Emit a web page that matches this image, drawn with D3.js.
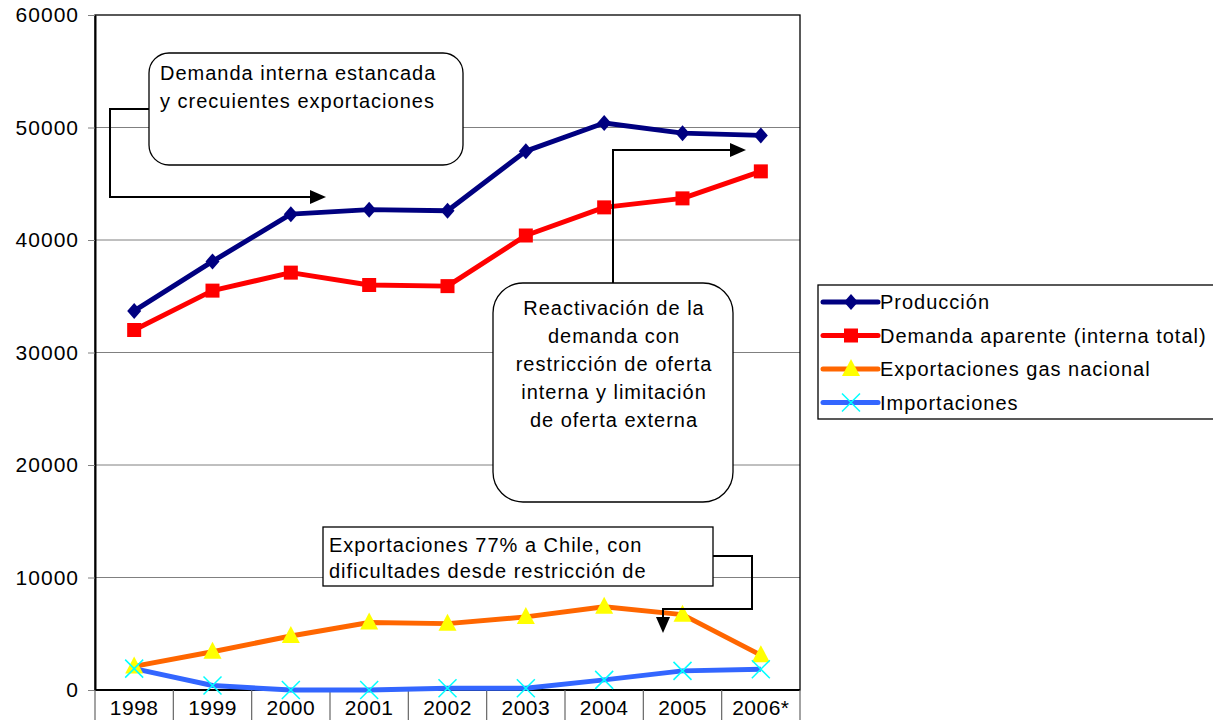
<!DOCTYPE html>
<html>
<head>
<meta charset="utf-8">
<script src="https://cdn.jsdelivr.net/npm/d3@7"></script>
<style>
  body { margin: 0; background: #fff; }
  svg text { font-family: "Liberation Sans", Arial, sans-serif; fill: #000; letter-spacing: 1px; }
</style>
</head>
<body>
<div id="chart"></div>
<script>
// categories and series
const years = ["1998", "1999", "2000", "2001", "2002", "2003", "2004", "2005", "2006*"];
const produccion = [33700, 38100, 42300, 42700, 42600, 47900, 50400, 49500, 49300];
const demanda = [32000, 35500, 37100, 36000, 35900, 40400, 42900, 43700, 46100];
const exportaciones = [2100, 3400, 4800, 6000, 5900, 6500, 7400, 6700, 3100];
const importaciones = [1900, 400, 0, 0, 150, 150, 900, 1700, 1850];
const yTicks = [0, 10000, 20000, 30000, 40000, 50000, 60000];

const series = [
  {name: "Producción", values: produccion, color: "#000080", marker: "diamond"},
  {name: "Demanda aparente (interna total)", values: demanda, color: "#ff0000", marker: "square"},
  {name: "Exportaciones gas nacional", values: exportaciones, color: "#ff6600", marker: "triangle"},
  {name: "Importaciones", values: importaciones, color: "#3366ff", marker: "cross"}
];

const width = 1213, height = 720;
const margins = {left: 95, right: 413, top: 15, bottom: 30};
const w = width - margins.left - margins.right;
const h = height - margins.top - margins.bottom;

const svg = d3.select("#chart").append("svg")
  .attr("width", width).attr("height", height);
const g = svg.append("g")
  .attr("transform", "translate(" + margins.left + "," + margins.top + ")");

const x = d3.scaleBand().domain(years).range([0, w]);
const y = d3.scaleLinear().domain([0, 60000]).range([h, 0]);

// gridlines
g.selectAll(".grid").data(yTicks.filter(d => d > 0 && d < 60000))
  .enter().append("line")
  .attr("x1", 0).attr("x2", w)
  .attr("y1", d => y(d)).attr("y2", d => y(d))
  .attr("stroke", "#808080").attr("stroke-width", 1);

// plot frame
g.append("rect").attr("x", 0).attr("y", 0).attr("width", w).attr("height", h)
  .attr("fill", "none").attr("stroke", "#000").attr("stroke-width", 1.3);

// y axis
const yAxis = g.append("g").call(d3.axisLeft(y).tickValues(yTicks).tickSize(7).tickSizeOuter(0).tickFormat(d3.format("d")));
yAxis.select(".domain").attr("stroke", "#000").attr("stroke-width", 2);
yAxis.selectAll(".tick line").attr("stroke", "#808080");
yAxis.selectAll("text").attr("font-size", 21).attr("x", -16)
  .attr("font-family", "Liberation Sans, Arial, sans-serif");

// x category table below axis
g.append("line").attr("x1", 0).attr("x2", w).attr("y1", h).attr("y2", h)
  .attr("stroke", "#000").attr("stroke-width", 2);
g.selectAll(".sep").data(years.concat(["end"]))
  .enter().append("line")
  .attr("x1", (d, i) => i * x.bandwidth()).attr("x2", (d, i) => i * x.bandwidth())
  .attr("y1", h).attr("y2", h + 32)
  .attr("stroke", "#666").attr("stroke-width", 1.2);
g.selectAll(".xlab").data(years)
  .enter().append("text")
  .attr("x", d => x(d) + x.bandwidth() / 2)
  .attr("y", h + 25)
  .attr("text-anchor", "middle")
  .attr("font-size", 21)
  .style("letter-spacing", "0.5px")
  .text(d => d);

const cx = i => x(years[i]) + x.bandwidth() / 2;
const line = d3.line().x((d, i) => cx(i)).y(d => y(d));

function drawMarker(sel, type, color) {
  if (type === "diamond") {
    sel.append("path").attr("d", "M0,-8L7,0L0,8L-7,0Z").attr("fill", color);
  } else if (type === "square") {
    sel.append("rect").attr("x", -7).attr("y", -7).attr("width", 14).attr("height", 14).attr("fill", color);
  } else if (type === "triangle") {
    sel.append("path").attr("d", "M0,-10L9,7L-9,7Z").attr("fill", "#ffff00");
  } else {
    sel.append("path").attr("d", "M-9,-9L9,9M-9,9L9,-9").attr("stroke", "#00ffff").attr("stroke-width", 1.5).attr("fill", "none");
  }
}

series.forEach(s => {
  g.append("path").datum(s.values)
    .attr("d", line).attr("fill", "none")
    .attr("stroke", s.color).attr("stroke-width", 5)
    .attr("stroke-linejoin", "round");
});
series.forEach(s => {
  s.values.forEach((v, i) => {
    const m = g.append("g").attr("transform", "translate(" + cx(i) + "," + y(v) + ")");
    drawMarker(m, s.marker, s.color);
  });
});

// annotations
const ann = svg.append("g");
function arrowHead(x0, y0, dir) {
  const p = dir === "right" ? "M" + x0 + "," + y0 + "l-16,-7l0,14z" : "M" + x0 + "," + y0 + "l-7,-16l14,0z";
  ann.append("path").attr("d", p).attr("fill", "#000");
}
function connector(pts) {
  ann.append("path").attr("d", d3.line()(pts)).attr("fill", "none").attr("stroke", "#000").attr("stroke-width", 2);
}

connector([[149, 109], [110, 109], [110, 197], [312, 197]]);
arrowHead(326, 197, "right");
ann.append("rect").attr("x", 149).attr("y", 53).attr("width", 314).attr("height", 112)
  .attr("rx", 20).attr("fill", "#fff").attr("stroke", "#000").attr("stroke-width", 1.3);
ann.append("text").attr("x", 160).attr("y", 0).attr("font-size", 20)
  .selectAll("tspan").data(["Demanda interna estancada", "y crecuientes exportaciones"])
  .enter().append("tspan").attr("x", 160).attr("y", (d, i) => 80 + i * 28).text(d => d);

connector([[613, 283], [613, 150], [732, 150]]);
arrowHead(746, 150, "right");
ann.append("rect").attr("x", 493).attr("y", 283).attr("width", 240).attr("height", 219)
  .attr("rx", 30).attr("fill", "#fff").attr("stroke", "#000").attr("stroke-width", 1.3);
ann.append("text").attr("font-size", 20).attr("text-anchor", "middle")
  .selectAll("tspan").data(["Reactivación de la", "demanda con", "restricción de oferta", "interna y limitación", "de oferta externa"])
  .enter().append("tspan").attr("x", 614).attr("y", (d, i) => 315 + i * 28).text(d => d);

connector([[713, 556], [752, 556], [752, 609], [663, 609], [663, 618]]);
arrowHead(663, 633, "down");
ann.append("rect").attr("x", 323).attr("y", 527).attr("width", 390).attr("height", 59)
  .attr("fill", "#fff").attr("stroke", "#000").attr("stroke-width", 1.3);
ann.append("text").attr("font-size", 20)
  .selectAll("tspan").data(["Exportaciones 77% a Chile, con", "dificultades desde restricción de"])
  .enter().append("tspan").attr("x", 329).attr("y", (d, i) => 552 + i * 26).text(d => d);

// legend
const lg = svg.append("g").attr("transform", "translate(818,285)");
lg.append("rect").attr("width", 400).attr("height", 134)
  .attr("fill", "#fff").attr("stroke", "#000").attr("stroke-width", 1.3);
series.forEach((s, i) => {
  const row = lg.append("g").attr("transform", "translate(0," + (17 + i * 33.5) + ")");
  row.append("line").attr("x1", 5).attr("x2", 60).attr("stroke", s.color).attr("stroke-width", 5).attr("stroke-linecap", "round");
  const m = row.append("g").attr("transform", "translate(33,0)");
  drawMarker(m, s.marker, s.color);
  row.append("text").attr("x", 62).attr("y", 7).attr("font-size", 20).text(s.name);
});
</script>
</body>
</html>
